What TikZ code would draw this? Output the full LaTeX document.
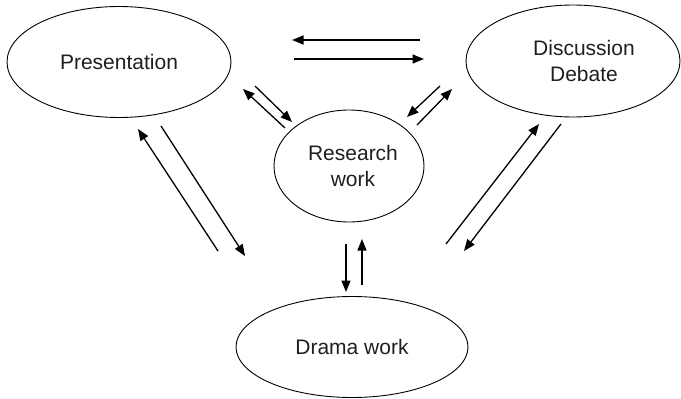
\documentclass[tikz,border=0pt]{standalone}
\usepackage{fontspec}
\setmainfont{Liberation Sans}
\usetikzlibrary{shapes.geometric,arrows.meta}
\begin{document}
\begin{tikzpicture}[x=1pt,y=-1pt,
  bubble/.style={draw, ellipse, line width=0.9pt, inner sep=0pt, align=center,
    font=\fontsize{21}{26}\selectfont, text=black!88},
  flow/.style={line width=1.3pt, -{Triangle[length=11.5pt,width=9pt]}}]
\useasboundingbox (0,0) rectangle (681,399);
\node[bubble, minimum width=224pt, minimum height=111pt] (pres) at (119,62) {Presentation};
\node[bubble, minimum width=214pt, minimum height=112pt,
  label={[xshift=11pt, align=center, font=\fontsize{21}{26}\selectfont, text=black!88]center:Discussion\\Debate}] (disc) at (573,61) {};
\node[bubble, minimum width=150pt, minimum height=112pt,
  label={[xshift=4pt, align=center, font=\fontsize{21}{26}\selectfont, text=black!88]center:Research\\work}] (res) at (349,166) {};
\node[bubble, minimum width=232pt, minimum height=101pt] (drama) at (352,347) {Drama work};
% arrow end points
\coordinate (t1a) at (420,40);  \coordinate (t1b) at (292,40);
\coordinate (t2a) at (294,59);  \coordinate (t2b) at (424,59);
\coordinate (pr1a) at (285,128); \coordinate (pr1b) at (243,89);
\coordinate (pr2a) at (255,86);  \coordinate (pr2b) at (292,122);
\coordinate (rd1a) at (440,86);  \coordinate (rd1b) at (407,117);
\coordinate (rd2a) at (417,125); \coordinate (rd2b) at (452,89);
\coordinate (pd1a) at (218,251); \coordinate (pd1b) at (138,129);
\coordinate (pd2a) at (161,126); \coordinate (pd2b) at (245,256);
\coordinate (dd1a) at (446,244); \coordinate (dd1b) at (539,124);
\coordinate (dd2a) at (561,124); \coordinate (dd2b) at (464,251);
\coordinate (rr1a) at (346,244); \coordinate (rr1b) at (346,292);
\coordinate (rr2a) at (362,285); \coordinate (rr2b) at (362,239);
\draw[flow] (t1a) -- (t1b);
\draw[flow] (t2a) -- (t2b);
\draw[flow] (pr1a) -- (pr1b);
\draw[flow] (pr2a) -- (pr2b);
\draw[flow] (rd1a) -- (rd1b);
\draw[flow] (rd2a) -- (rd2b);
\draw[flow] (pd1a) -- (pd1b);
\draw[flow] (pd2a) -- (pd2b);
\draw[flow] (dd1a) -- (dd1b);
\draw[flow] (dd2a) -- (dd2b);
\draw[flow] (rr1a) -- (rr1b);
\draw[flow] (rr2a) -- (rr2b);
\end{tikzpicture}
\end{document}
